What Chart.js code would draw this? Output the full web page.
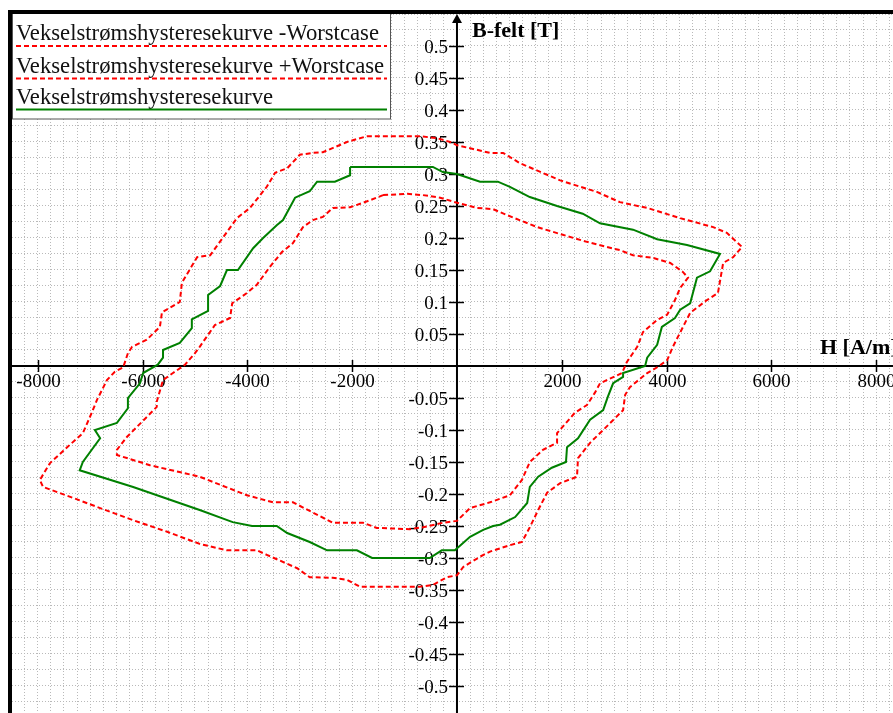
<!DOCTYPE html>
<html>
<head>
<meta charset="utf-8">
<script src="https://cdn.jsdelivr.net/npm/chart.js@4"></script>
<style>
  body { margin: 0; background: #fff; }
  canvas { display: block; }
</style>
</head>
<body>
<canvas id="hysteresisChart" width="893" height="713"></canvas>
<script>
// Hysteresekurver – H [A/m] mot B [T], avlest fra originalfiguren
const labelMinus = 'Vekselstrømshysteresekurve -Worstcase';
const labelPlus = 'Vekselstrømshysteresekurve +Worstcase';
const labelMain = 'Vekselstrømshysteresekurve';

const xTicks = [-8000, -6000, -4000, -2000, 2000, 4000, 6000, 8000];
const yTicks = [-0.5, -0.45, -0.4, -0.35, -0.3, -0.25, -0.2, -0.15, -0.1, -0.05,
  0.05, 0.1, 0.15, 0.2, 0.25, 0.3, 0.35, 0.4, 0.45, 0.5];

// -Worstcase (indre rød kurve)
const hInner = [-1410, -950, -650, -320, 0, 380, 690, 950, 1530, 2020, 2480, 2860, 3110, 3360, 3740, 4070,
  4310, 4410, 4260, 4160, 4010, 3820, 3550, 3440, 3240, 3150, 2730, 2630, 2480, 2250, 1910, 1910,
  1640, 1390, 1240, 1010, 630, 250, 0, -270, -650, -900, -1530, -1790, -2370, -3130, -3510, -4010,
  -4910, -5860, -6490, -6490, -6300, -5730, -5730, -5610, -5420, -5190, -5000, -4910, -4620, -4330,
  -4290, -4010, -3820, -3570, -3340, -3130, -2940, -2750, -2560, -2370, -2040, -1660, -1410];
const bInner = [0.267, 0.269, 0.267, 0.263, 0.255, 0.247, 0.245, 0.236, 0.217, 0.205, 0.194, 0.186, 0.181, 0.173, 0.169, 0.161,
  0.147, 0.138, 0.122, 0.103, 0.080, 0.072, 0.053, 0.030, 0.006, -0.011, -0.027, -0.042, -0.061, -0.073, -0.105, -0.120,
  -0.131, -0.150, -0.178, -0.202, -0.213, -0.222, -0.242, -0.245, -0.252, -0.255, -0.253, -0.245, -0.245, -0.213, -0.213, -0.202,
  -0.173, -0.155, -0.139, -0.131, -0.111, -0.064, -0.056, -0.022, -0.011, 0.002, 0.020, 0.030, 0.064, 0.075,
  0.098, 0.114, 0.127, 0.155, 0.178, 0.192, 0.217, 0.228, 0.233, 0.247, 0.248, 0.259, 0.267];

// +Worstcase (ytre rød kurve)
const hOuter = [-1720, -710, -380, -130, 0, 630, 880, 1200, 1970, 2670, 3110, 3630, 4260, 4890, 5150, 5440,
  5270, 5080, 4980, 4770, 4450, 4350, 4120, 4010, 3820, 3630, 3300, 3210, 3170, 2790, 2540, 2310,
  2290, 1970, 1720, 1550, 1390, 1240, 1010, 630, 440, 120, 0, -190, -460, -710, -1850, -2100,
  -2370, -2810, -3050, -3630, -3820, -4390, -4910, -5530, -6180, -6810, -7330, -7900, -7960, -7770,
  -7440, -7140, -6970, -6870, -6680, -6530, -6370, -6280, -6200, -5920, -5670, -5630, -5290, -5250,
  -4960, -4710, -4200, -3950, -3630, -3470, -3240, -3000, -2750, -2560, -2100, -1720];
const bOuter = [0.359, 0.359, 0.356, 0.350, 0.345, 0.333, 0.333, 0.317, 0.290, 0.272, 0.256, 0.247, 0.231, 0.217, 0.208, 0.186,
  0.170, 0.161, 0.114, 0.103, 0.083, 0.067, 0.030, 0.009, -0.002, -0.011, -0.033, -0.045, -0.069, -0.100, -0.120, -0.144,
  -0.173, -0.183, -0.198, -0.225, -0.252, -0.275, -0.280, -0.290, -0.298, -0.314, -0.327, -0.330, -0.342, -0.345, -0.345, -0.334,
  -0.331, -0.330, -0.316, -0.295, -0.288, -0.288, -0.278, -0.259, -0.241, -0.222, -0.206, -0.189, -0.178, -0.152,
  -0.127, -0.105, -0.073, -0.053, -0.022, -0.009, -0.002, 0.020, 0.030, 0.041, 0.061, 0.084, 0.100, 0.130,
  0.170, 0.173, 0.231, 0.247, 0.280, 0.302, 0.309, 0.330, 0.333, 0.334, 0.350, 0.359];

// Målt kurve (grønn)
const hMain = [-2040, -460, -270, 0, 440, 780, 1010, 1390, 1910, 2400, 2730, 3360, 3820, 4390, 5020, 4830,
  4580, 4450, 4260, 4160, 3910, 3820, 3630, 3590, 3170, 3170, 2980, 2880, 2790, 2540, 2310, 2100,
  2080, 1810, 1550, 1390, 1340, 1110, 820, 690, 500, 250, -40, -290, -520, -1620, -1910, -2480,
  -2810, -3240, -3440, -3910, -4280, -4910, -6180, -7200, -7140, -6810, -6910, -6490, -6280, -6280,
  -6050, -5990, -5710, -5610, -5610, -5290, -5060, -5060, -4750, -4750, -4520, -4390, -4180, -3890,
  -3700, -3440, -3320, -3090, -2810, -2670, -2330, -2040, -2040];
const bMain = [0.311, 0.311, 0.303, 0.300, 0.288, 0.288, 0.280, 0.264, 0.250, 0.238, 0.223, 0.213, 0.198, 0.189, 0.175, 0.148,
  0.138, 0.098, 0.088, 0.075, 0.061, 0.033, 0.013, 0.000, -0.011, -0.017, -0.027, -0.048, -0.069, -0.084, -0.113, -0.127,
  -0.150, -0.159, -0.173, -0.189, -0.214, -0.236, -0.248, -0.250, -0.256, -0.267, -0.288, -0.288, -0.300, -0.300, -0.288, -0.288,
  -0.275, -0.261, -0.250, -0.250, -0.244, -0.225, -0.189, -0.163, -0.150, -0.113, -0.100, -0.089, -0.066, -0.050,
  -0.027, -0.011, 0.002, 0.013, 0.025, 0.036, 0.059, 0.073, 0.086, 0.111, 0.125, 0.150, 0.150, 0.184,
  0.200, 0.220, 0.228, 0.263, 0.273, 0.288, 0.288, 0.298, 0.311];

const toPoints = (hs, bs) => hs.map((h, i) => ({ x: h, y: bs[i] }));

const serif = '"Liberation Serif", "Times New Roman", serif';

// Akser gjennom origo med piltupp, tikk og tekst
const crossAxes = {
  id: 'crossAxes',
  beforeDatasetsDraw(chart) {
    const { ctx, chartArea: area, scales: { x, y } } = chart;
    const x0 = x.getPixelForValue(0);
    const y0 = y.getPixelForValue(0);
    ctx.save();
    ctx.strokeStyle = '#000';
    ctx.fillStyle = '#000';
    ctx.lineWidth = 2;
    ctx.beginPath();
    ctx.moveTo(area.left, y0);
    ctx.lineTo(area.right, y0);
    ctx.moveTo(x0, area.bottom);
    ctx.lineTo(x0, area.top + 6);
    ctx.stroke();
    // pil
    ctx.beginPath();
    ctx.moveTo(x0, area.top);
    ctx.lineTo(x0 - 5, area.top + 9);
    ctx.lineTo(x0 + 5, area.top + 9);
    ctx.closePath();
    ctx.fill();

    ctx.lineWidth = 1.5;
    ctx.font = '19px ' + serif;
    ctx.textAlign = 'center';
    ctx.textBaseline = 'alphabetic';
    xTicks.forEach(v => {
      const px = Math.round(x.getPixelForValue(v)) + 0.5;
      ctx.beginPath();
      ctx.moveTo(px, y0 - 6);
      ctx.lineTo(px, y0 + 6);
      ctx.stroke();
      ctx.fillText(String(v), px, y0 + 21);
    });
    ctx.textAlign = 'right';
    yTicks.forEach(v => {
      const py = Math.round(y.getPixelForValue(v)) + 0.5;
      ctx.beginPath();
      ctx.moveTo(x0 - 8, py);
      ctx.lineTo(x0 + 7, py);
      ctx.stroke();
      ctx.fillText(String(v), x0 - 9, py + 6);
    });

    ctx.font = 'bold 22px ' + serif;
    ctx.textAlign = 'left';
    ctx.fillText('B-felt [T]', x0 + 15, area.top + 23);
    ctx.fillText('H [A/m]', 820, y0 - 12);
    ctx.restore();
  }
};

// Forklaring med linjeprøve under teksten, pluss svart ramme
const boxLegend = {
  id: 'boxLegend',
  afterDraw(chart) {
    const { ctx } = chart;
    const rows = [40, 72.5, 103.5];
    ctx.save();
    ctx.fillStyle = '#fff';
    ctx.fillRect(12, 14, 379, 105);
    ctx.strokeStyle = '#555';
    ctx.lineWidth = 1;
    ctx.strokeRect(12.5, 13.5, 378, 105.5);
    ctx.font = '22.7px ' + serif;
    ctx.textAlign = 'left';
    ctx.textBaseline = 'alphabetic';
    chart.data.datasets.forEach((ds, i) => {
      ctx.fillStyle = '#111';
      ctx.fillText(ds.label, 16, rows[i]);
      ctx.strokeStyle = ds.borderColor;
      ctx.lineWidth = 2;
      ctx.setLineDash(ds.borderDash || []);
      ctx.beginPath();
      ctx.moveTo(16, rows[i] + 6);
      ctx.lineTo(387, rows[i] + 6);
      ctx.stroke();
      ctx.setLineDash([]);
    });
    ctx.fillStyle = '#000';
    ctx.fillRect(8, 10, 885, 4);
    ctx.fillRect(8, 10, 4, 703);
    ctx.restore();
  }
};

const ctx = document.getElementById('hysteresisChart').getContext('2d');
new Chart(ctx, {
  type: 'scatter',
  data: {
    datasets: [
      { label: labelMinus, data: toPoints(hInner, bInner), borderColor: '#ff0000', borderDash: [5, 3] },
      { label: labelPlus, data: toPoints(hOuter, bOuter), borderColor: '#ff0000', borderDash: [5, 3] },
      { label: labelMain, data: toPoints(hMain, bMain), borderColor: '#008000' }
    ]
  },
  options: {
    responsive: false,
    animation: false,
    showLine: true,
    datasets: { scatter: { showLine: true } },
    elements: {
      point: { radius: 0, hoverRadius: 0 },
      line: { borderWidth: 2, tension: 0, fill: false }
    },
    layout: { padding: { left: 12, top: 14, right: 0, bottom: 0 }, autoPadding: false },
    scales: {
      x: {
        type: 'linear',
        min: -8492,
        max: 8321,
        ticks: { stepSize: 250, display: false, includeBounds: false },
        grid: { color: '#b9b9b9', lineWidth: 1, drawTicks: false },
        border: { display: false, dash: [1, 2] }
      },
      y: {
        type: 'linear',
        min: -0.5422,
        max: 0.55,
        ticks: { stepSize: 0.025, display: false, includeBounds: false },
        grid: { color: '#b9b9b9', lineWidth: 1, drawTicks: false },
        border: { display: false, dash: [1, 2] }
      }
    },
    plugins: {
      legend: { display: false },
      tooltip: { enabled: false }
    }
  },
  plugins: [crossAxes, boxLegend]
});
</script>
</body>
</html>
